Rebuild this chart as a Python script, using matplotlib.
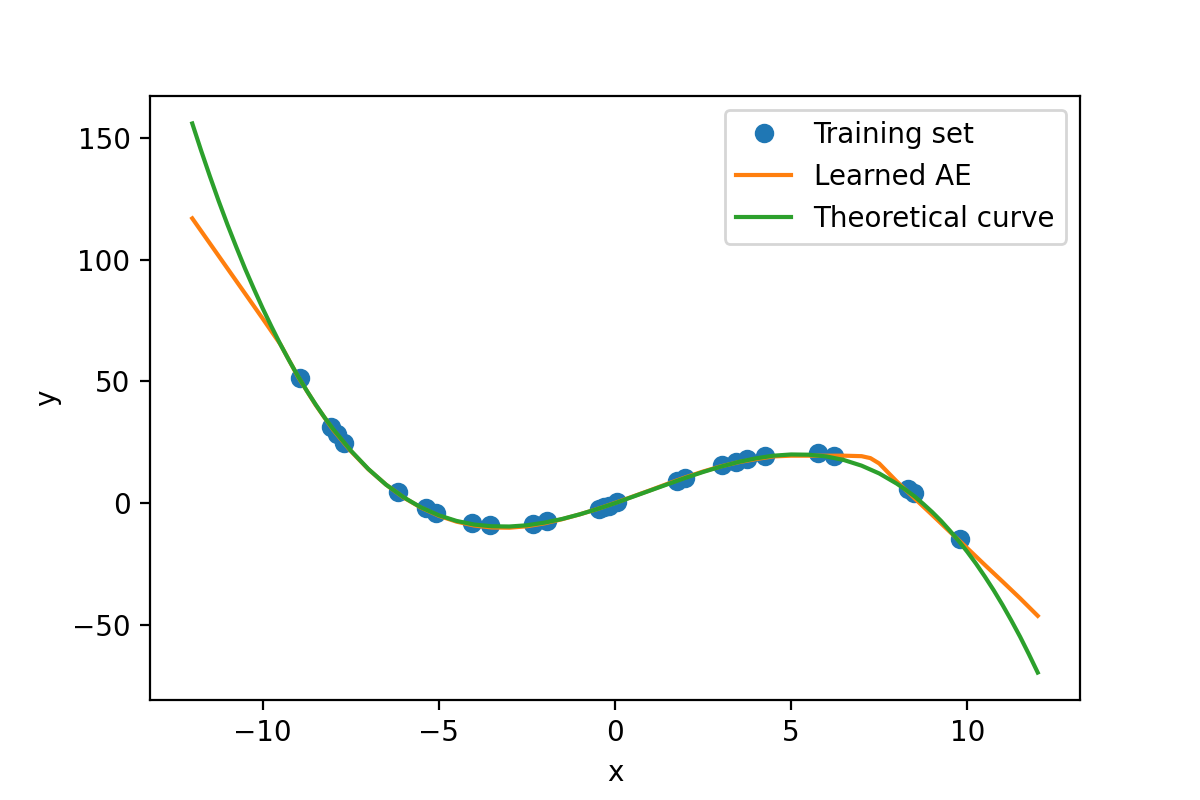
import numpy as np
import matplotlib
matplotlib.use("Agg")
import matplotlib.pyplot as plt


# =========================
# 1. Data
# =========================
train_x = [-8.94, -8.05, -7.90, -7.70, -6.15, -5.37, -5.09, -4.06, -3.54,
           -2.34, -1.93, -0.46, -0.30, -0.18, 0.07, 1.77, 1.98, 3.05, 3.43,
           3.76, 4.25, 5.77, 6.22, 8.31, 8.50, 9.78]
train_y = [51.6, 31.1, 28.3, 24.9, 4.4, -2.2, -4.1, -8.2, -9.0,
           -8.6, -7.5, -2.3, -1.6, -1.1, 0.6, 9.3, 10.4, 15.6, 17.0,
           18.1, 19.4, 20.8, 19.2, 5.7, 4.1, -14.8]

# learned autoencoder curve
learned_x = [-12.0, -11.5, -11.0, -10.5, -10.0, -9.5, -9.0, -8.5, -8.0, -7.5,
             -7.0, -6.5, -6.0, -5.5, -5.0, -4.5, -4.0, -3.5, -3.0, -2.5,
             -2.0, -1.5, -1.0, -0.5, 0.0, 0.5, 1.0, 1.5, 2.0, 2.5,
             3.0, 3.5, 4.0, 4.5, 5.0, 5.5, 6.0, 6.5, 7.0, 7.25, 7.5,
             8.0, 8.5, 9.0, 9.5, 10.0, 10.5, 11.0, 11.5, 12.0]
learned_y = [117.0, 106.7, 96.4, 86.1, 75.8, 65.3, 52.0, 40.4, 30.1, 21.4,
             13.9, 7.6, 2.3, -1.9, -5.2, -7.6, -9.2, -10.0, -10.1, -9.5,
             -8.3, -6.6, -4.6, -2.4, 0.1, 2.7, 5.3, 8.0, 10.6, 13.0,
             15.1, 16.8, 18.1, 19.2, 19.5, 19.5, 19.5, 19.5, 19.3, 18.5, 16.3,
             8.9, 2.0, -4.8, -11.7, -18.5, -25.4, -32.2, -39.1, -46.3]

# theoretical curve
theory_x = [-12.0, -11.75, -11.5, -11.25, -11.0, -10.75, -10.5, -10.25,
            -10.0, -9.75, -9.5, -9.25, -9.0, -8.75, -8.5, -8.25, -8.0,
            -7.5, -7.0, -6.5, -6.0, -5.5, -5.0, -4.5, -4.0, -3.5, -3.0, -2.5,
            -2.0, -1.5, -1.0, -0.5, 0.0, 0.5, 1.0, 1.5, 2.0, 2.5,
            3.0, 3.5, 4.0, 4.5, 5.0, 5.5, 6.0, 6.5, 7.0, 7.5,
            8.0, 8.25, 8.5, 8.75, 9.0, 9.25, 9.5, 9.75, 10.0,
            10.25, 10.5, 10.75, 11.0, 11.25, 11.5, 11.75, 12.0]
theory_y = [156.0, 144.9, 134.3, 124.1, 114.4, 105.2, 96.3, 88.0,
            80.0, 72.5, 65.3, 58.6, 52.2, 46.2, 40.6, 35.3, 30.4,
            21.6, 14.0, 7.6, 2.4, -1.8, -5.0, -7.3, -8.8, -9.5, -9.6, -9.1,
            -8.0, -6.5, -4.6, -2.4, 0.0, 2.6, 5.2, 7.8, 10.4, 12.8,
            15.0, 16.9, 18.4, 19.5, 20.0, 19.9, 19.2, 17.7, 15.4, 12.2,
            8.0, 5.5, 2.8, -0.3, -3.6, -7.2, -11.2, -15.4, -20.0,
            -24.9, -30.2, -35.8, -41.8, -48.2, -54.9, -62.1, -69.6]


# =========================
# 2. Plot
# =========================
def main():
    fig, ax = plt.subplots(figsize=(6, 4), dpi=200)
    fig.subplots_adjust(left=0.125, right=0.9, top=0.88, bottom=0.125)

    ax.plot(train_x, train_y, "o", label="Training set")
    ax.plot(learned_x, learned_y, label="Learned AE")
    ax.plot(theory_x, theory_y, label="Theoretical curve")

    ax.set_xlabel("x")
    ax.set_ylabel("y")
    ax.legend(loc="upper right")

    fig.savefig("out.png", dpi=200)


if __name__ == "__main__":
    main()
